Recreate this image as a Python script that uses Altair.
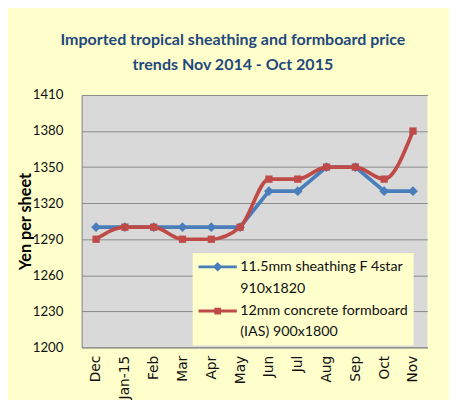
import altair as alt
import pandas as pd

months = ["Dec", "Jan-15", "Feb", "Mar", "Apr", "May", "Jun", "Jul", "Aug", "Sep", "Oct", "Nov"]
sheathing = [1300, 1300, 1300, 1300, 1300, 1300, 1330, 1330, 1350, 1350, 1330, 1330]
formboard = [1290, 1300, 1300, 1290, 1290, 1300, 1340, 1340, 1350, 1350, 1340, 1380]
s_a = "11.5mm sheathing F 4star"
s_a2 = "910x1820"
s_b = "12mm concrete formboard"
s_b2 = "(IAS) 900x1800"
y_ticks = [1200, 1230, 1260, 1290, 1320, 1350, 1380, 1410]

df = pd.DataFrame({
    "month": months * 2,
    "series": [s_a] * len(months) + [s_b] * len(months),
    "value": sheathing + formboard,
})

legend_domain = [s_a, s_a2, s_b, s_b2]
color_scale = alt.Scale(domain=legend_domain, range=["#4A7EBB", "transparent", "#BE4B48", "transparent"])
path_a = "M-3,0H3M0,-0.42L0.42,0L0,0.42L-0.42,0Z"
path_b = "M-3,0H3M-0.3,-0.3H0.3V0.3H-0.3Z"
legend_shapes = alt.Scale(domain=legend_domain, range=[path_a, path_a, path_b, path_b])

def make_legend():
    return alt.Legend(
        title=None,
        orient="none",
        legendX=113,
        legendY=161,
        direction="vertical",
        fillColor="#FFFFCC",
        padding=6,
        labelFont="Lato",
        labelFontSize=14.5,
        labelColor="#111111",
        labelLimit=300,
        labelOffset=15,
        symbolOffset=11.5,
        symbolSize=169,
        symbolStrokeWidth=3,
        symbolOpacity=1,
        rowPadding=5,
    )

xenc = alt.X("month:N", sort=months, title=None,
             axis=alt.Axis(labelAngle=-90, labelFont="DejaVu Sans", labelFontSize=14,
                           labelColor="#111111", labelPadding=8, ticks=False,
                           domainColor="#868686", grid=False, labelBaseline="middle", labelAlign="right"))
yenc = alt.Y("value:Q", title="Yen per sheet",
             scale=alt.Scale(domain=[1200, 1410], nice=False, zero=False),
             axis=alt.Axis(values=y_ticks, format="d", labelFont="Lato", labelFontSize=13.5,
                           labelColor="#111111", labelPadding=19, ticks=False, domainColor="#868686",
                           gridColor="#8A8A8A", gridWidth=1,
                           titleFont="Lato", titleFontSize=16.5, titleFontWeight="bold",
                           titleColor="#000000", titlePadding=-1))

base = alt.Chart(df).encode(
    x=xenc, y=yenc,
    color=alt.Color("series:N", scale=color_scale, legend=make_legend(), sort=legend_domain),
)

line_a = base.transform_filter(alt.datum.series == s_a).mark_line(strokeWidth=3.75)
pts_a = base.transform_filter(alt.datum.series == s_a).mark_point(
    filled=True, opacity=1, size=100, shape="diamond")
line_b = base.transform_filter(alt.datum.series == s_b).mark_line(strokeWidth=3.75, interpolate="monotone")
pts_b = base.transform_filter(alt.datum.series == s_b).mark_point(
    filled=True, opacity=1, size=55, shape="square")
legend_layer = base.mark_point(filled=False, opacity=0, strokeWidth=3).encode(
    shape=alt.Shape("series:N", scale=legend_shapes, legend=make_legend(), sort=legend_domain))

chart = alt.layer(line_a, pts_a, line_b, pts_b, legend_layer).properties(
    width=352,
    height=257,
    background="#FFFFCC",
    padding={"left": 75, "top": 85, "right": 22, "bottom": 50},
    autosize=alt.AutoSizeParams(type="none"),
    title=alt.TitleParams(
        text=["Imported tropical sheathing and formboard price", "trends Nov 2014 - Oct 2015"],
        font="Lato", fontSize=16.3, fontWeight="bold", color="#1F497D",
        anchor="middle", dx=-22, offset=15, lineHeight=26,
    ),
).configure_view(fill="#D9D9D9", stroke=None)

chart.save("out.html", embed_options={"renderer": "svg", "actions": False})
